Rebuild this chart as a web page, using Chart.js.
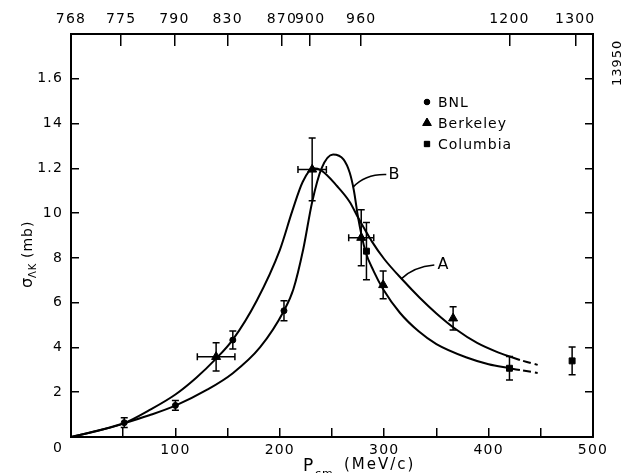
<!DOCTYPE html>
<html>
<head>
<meta charset="utf-8">
<script src="https://cdn.jsdelivr.net/npm/chart.js@4.4.1/dist/chart.umd.min.js"></script>
<style>
  html, body { margin: 0; padding: 0; background: #fff; }
</style>
</head>
<body>
<canvas id="chart" width="635" height="473"></canvas>
<script>
// Valeurs : p_cm en MeV/c, sigma en mb
const bnlP = [51, 100, 155, 204];
const bnlV = [0.64, 1.41, 4.33, 5.64];
const bnlErr = [0.22, 0.22, 0.4, 0.45];

const berkeleyP = [139, 231, 278, 299, 366];
const berkeleyV = [3.58, 11.95, 8.9, 6.79, 5.3];
const berkeleyErr = [0.63, 1.4, 1.25, 0.62, 0.52];
const berkeleyPErr = [18, 13.6, 12, 0, 0];

const columbiaP = [283, 420, 480];
const columbiaV = [8.3, 3.07, 3.4];
const columbiaErr = [1.28, 0.52, 0.62];

// courbe A
const curveAP = [0, 25, 50, 75, 100, 120, 139, 155, 178, 200, 212, 222, 232, 240, 255, 267, 275, 288, 300, 318, 334, 350, 369, 389, 409, 430];
const curveAV = [0, 0.28, 0.6, 1.2, 1.9, 2.65, 3.5, 4.35, 6.1, 8.35, 10.1, 11.4, 12.0, 11.9, 11.2, 10.5, 9.8, 8.75, 7.95, 7.0, 6.22, 5.52, 4.8, 4.2, 3.78, 3.44];
const curveAEndP = [433, 447];
const curveAEndV = [3.4, 3.22];

// courbe B
const curveBP = [0, 25, 50, 75, 100, 130, 155, 181, 204, 213, 222.5, 231, 240, 251, 261, 267, 271, 275, 282, 290, 299, 315, 333, 350, 379, 400, 419, 430];
const curveBV = [0, 0.27, 0.6, 0.97, 1.4, 2.1, 2.85, 4.0, 5.64, 6.6, 8.4, 10.5, 12.0, 12.62, 12.4, 11.8, 11.0, 9.8, 8.3, 7.4, 6.6, 5.55, 4.72, 4.15, 3.55, 3.25, 3.08, 2.99];
const curveBEndP = [433, 447];
const curveBEndV = [2.97, 2.86];

// graduations
const yTickVals = [2, 4, 6, 8, 10, 12, 14, 16];
const yTickLabels = ['2', '4', '6', '8', '10', '1.2', '14', '1.6'];
const topTickP = [0, 48, 99, 150, 202, 229, 278, 420, 483];
const topTickLabels = ['768', '775', '790', '830', '870', '900', '960', '1200', '1300'];

const FONT = 'DejaVu Sans';
const toXY = (ps, vs) => ps.map((p, i) => ({ x: p, y: vs[i] }));

function curveDataset(ps, vs, dash) {
    return {
        type: 'line',
        data: toXY(ps, vs),
        borderColor: '#000',
        borderWidth: 2,
        borderDash: dash || [],
        pointRadius: 0,
        cubicInterpolationMode: 'monotone',
        fill: false
    };
}

function pointDataset(ps, vs, style, radius) {
    return {
        type: 'scatter',
        data: toXY(ps, vs),
        pointStyle: style,
        pointRadius: radius,
        backgroundColor: '#000',
        borderColor: '#000',
        borderWidth: 1
    };
}

// Barres d'erreur et textes
const extrasPlugin = {
    id: 'extras',
    beforeDraw(chart) {
        // lettrage large comme sur la figure
        chart.ctx.letterSpacing = '1.2px';
    },
    afterDatasetsDraw(chart) {
        const ctx = chart.ctx;
        const xs = chart.scales.x, ys = chart.scales.y;
        const sets = [
            [bnlP, bnlV, bnlErr, null],
            [berkeleyP, berkeleyV, berkeleyErr, berkeleyPErr],
            [columbiaP, columbiaV, columbiaErr, null]
        ];
        ctx.save();
        ctx.strokeStyle = '#000';
        ctx.lineWidth = 1.5;
        sets.forEach(([ps, vs, errs, perrs]) => {
            ps.forEach((p, i) => {
                const x = xs.getPixelForValue(p);
                const y = ys.getPixelForValue(vs[i]);
                const y1 = ys.getPixelForValue(vs[i] - errs[i]);
                const y2 = ys.getPixelForValue(vs[i] + errs[i]);
                ctx.beginPath();
                ctx.moveTo(x, y1); ctx.lineTo(x, y2);
                ctx.moveTo(x - 3.5, y1); ctx.lineTo(x + 3.5, y1);
                ctx.moveTo(x - 3.5, y2); ctx.lineTo(x + 3.5, y2);
                if (perrs && perrs[i]) {
                    const x1 = xs.getPixelForValue(p - perrs[i]);
                    const x2 = xs.getPixelForValue(p + perrs[i]);
                    ctx.moveTo(x1, y); ctx.lineTo(x2, y);
                    ctx.moveTo(x1, y - 3.5); ctx.lineTo(x1, y + 3.5);
                    ctx.moveTo(x2, y - 3.5); ctx.lineTo(x2, y + 3.5);
                }
                ctx.stroke();
            });
        });
        ctx.restore();
    },
    afterDraw(chart) {
        const ctx = chart.ctx;
        const xs = chart.scales.x, ys = chart.scales.y;
        ctx.save();
        ctx.fillStyle = '#000';
        ctx.strokeStyle = '#000';

        // origine
        ctx.font = `14px ${FONT}`;
        ctx.textAlign = 'center';
        ctx.textBaseline = 'middle';
        ctx.fillText('0', 58, 448);

        // titre de l'axe x
        ctx.textAlign = 'left';
        ctx.textBaseline = 'alphabetic';
        ctx.font = `17px ${FONT}`;
        ctx.fillText('P', 303, 471);
        ctx.font = `11px ${FONT}`;
        ctx.letterSpacing = '1px';
        ctx.fillText('cm', 315, 477);
        ctx.font = `15px ${FONT}`;
        ctx.letterSpacing = '2px';
        ctx.fillText('(MeV/c)', 344, 469);

        // titre de l'axe y
        ctx.letterSpacing = '1px';
        ctx.save();
        ctx.translate(32, 288);
        ctx.rotate(-Math.PI / 2);
        ctx.font = `16px ${FONT}`;
        ctx.fillText('σ', 0, 0);
        ctx.font = `10px ${FONT}`;
        ctx.fillText('ΛK', 10, 4);
        ctx.font = `14px ${FONT}`;
        ctx.fillText('(mb)', 30, 0);
        ctx.restore();

        // numéro de figure
        ctx.save();
        ctx.translate(621, 86);
        ctx.rotate(-Math.PI / 2);
        ctx.font = `13px ${FONT}`;
        ctx.fillText('13950', 0, 0);
        ctx.restore();

        // légende
        const legend = [
            ['circle', 2.8, 'BNL', 102],
            ['triangle', 5, 'Berkeley', 123],
            ['rect', 3.8, 'Columbia', 144]
        ];
        ctx.font = `14px ${FONT}`;
        ctx.letterSpacing = '1px';
        ctx.textBaseline = 'middle';
        legend.forEach(([style, r, label, y]) => {
            Chart.helpers.drawPoint(ctx, { pointStyle: style, radius: r, rotation: 0, borderWidth: 1 }, 427, y);
            ctx.fill();
            ctx.fillText(label, 438, y + 1);
        });

        // étiquettes A et B avec leurs traits de rappel
        const px = (p) => xs.getPixelForValue(p);
        const py = (v) => ys.getPixelForValue(v);
        ctx.lineWidth = 1.5;
        ctx.beginPath();
        ctx.moveTo(px(270), py(11.15));
        ctx.quadraticCurveTo(px(282), py(11.75), px(302), py(11.72));
        ctx.moveTo(px(316), py(7.05));
        ctx.quadraticCurveTo(px(328), py(7.6), px(348), py(7.68));
        ctx.stroke();
        ctx.font = `16px ${FONT}`;
        ctx.letterSpacing = '0px';
        ctx.textAlign = 'left';
        ctx.fillText('B', px(304), py(11.72));
        ctx.fillText('A', px(351), py(7.68));
        ctx.restore();
        ctx.letterSpacing = '0px';
    }
};

const axisBorder = { display: true, color: '#000', width: 2 };

new Chart(document.getElementById('chart'), {
    data: {
        datasets: [
            curveDataset(curveAP, curveAV),
            curveDataset(curveAEndP, curveAEndV, [8, 4]),
            curveDataset(curveBP, curveBV),
            curveDataset(curveBEndP, curveBEndV, [8, 4]),
            pointDataset(bnlP, bnlV, 'circle', 3),
            pointDataset(berkeleyP, berkeleyV, 'triangle', 5.2),
            pointDataset(columbiaP, columbiaV, 'rect', 4.2)
        ]
    },
    options: {
        responsive: false,
        animation: false,
        devicePixelRatio: 1,
        layout: { padding: 0 },
        plugins: { legend: { display: false }, tooltip: { enabled: false } },
        scales: {
            x: {
                type: 'linear', position: 'bottom', min: 0, max: 500,
                border: axisBorder,
                grid: { drawOnChartArea: false, tickLength: -9, color: '#000', lineWidth: 1.5 },
                ticks: {
                    stepSize: 50, autoSkip: false, maxRotation: 0, padding: 14,
                    color: '#000', font: { family: FONT, size: 14 },
                    callback: (v) => (v > 0 && v % 100 === 0) ? String(v) : ''
                },
                afterFit: (s) => { s.height = 36; }
            },
            xTop: {
                type: 'linear', position: 'top', min: 0, max: 500,
                border: axisBorder,
                grid: { drawOnChartArea: false, tickLength: -12, color: '#000', lineWidth: 1.5 },
                ticks: {
                    autoSkip: false, maxRotation: 0, padding: 18,
                    color: '#000', font: { family: FONT, size: 14 },
                    callback: (v, i) => topTickLabels[i]
                },
                afterBuildTicks: (s) => { s.ticks = topTickP.map(v => ({ value: v })); },
                afterFit: (s) => { s.height = 34; }
            },
            y: {
                type: 'linear', position: 'left', min: 0, max: 18,
                border: axisBorder,
                grid: { drawOnChartArea: false, tickLength: -8, color: '#000', lineWidth: 1.5 },
                ticks: {
                    stepSize: 2, autoSkip: false, padding: 16,
                    color: '#000', font: { family: FONT, size: 14 },
                    callback: (v) => {
                        const i = yTickVals.indexOf(v);
                        return i >= 0 ? yTickLabels[i] : '';
                    }
                },
                afterFit: (s) => { s.width = 71; }
            },
            yRight: {
                type: 'linear', position: 'right', min: 0, max: 18,
                border: axisBorder,
                grid: { drawOnChartArea: false, tickLength: -8, color: '#000', lineWidth: 1.5 },
                ticks: { stepSize: 2, display: false },
                afterFit: (s) => { s.width = 42; }
            }
        }
    },
    plugins: [extrasPlugin]
});
</script>
</body>
</html>
